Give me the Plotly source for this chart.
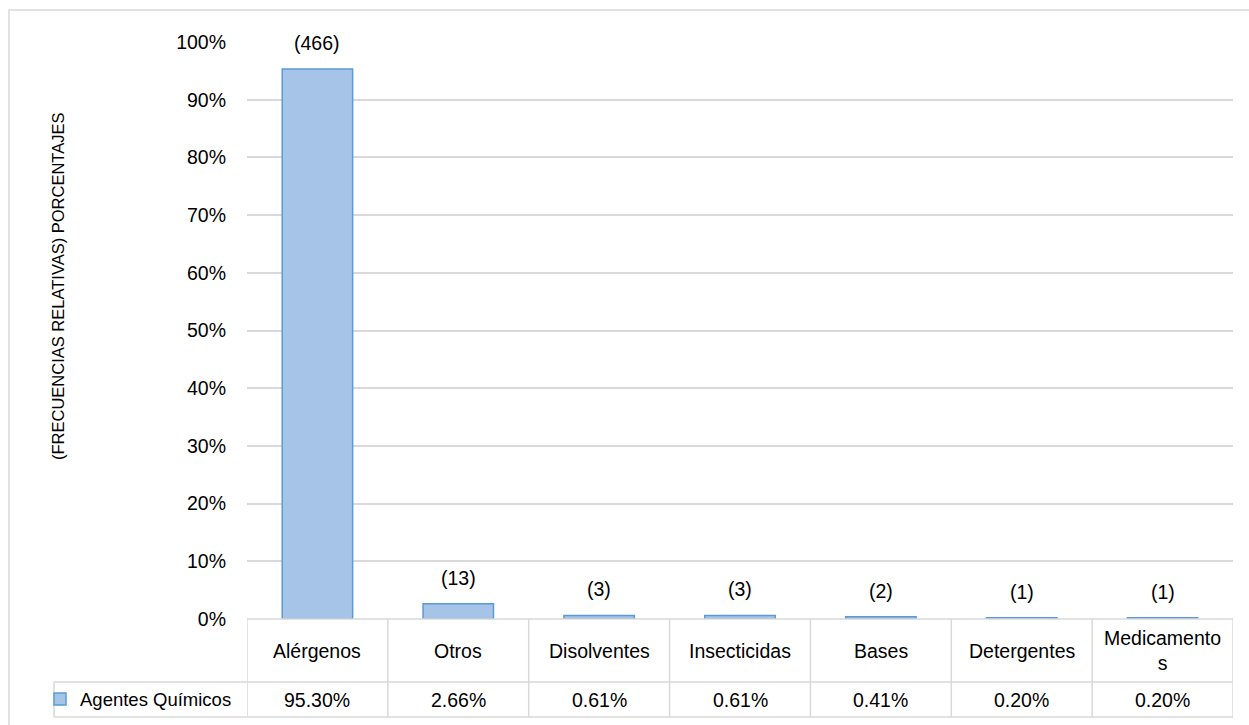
import plotly.graph_objects as go

# Chemical agents: case counts and relative frequencies
categories = ["Alérgenos", "Otros", "Disolventes", "Insecticidas", "Bases", "Detergentes", "Medicamentos"]
column_labels = ["Alérgenos", "Otros", "Disolventes", "Insecticidas", "Bases", "Detergentes", "Medicamento<br>s"]
counts = [466, 13, 3, 3, 2, 1, 1]
percents = [95.30, 2.66, 0.61, 0.61, 0.41, 0.20, 0.20]
series_name = "Agentes Químicos"
y_title = "(FRECUENCIAS RELATIVAS) PORCENTAJES"

W, H = 1249, 725
L, R, T, B = 247, 16, 42, 106          # plot area margins (px)
FONT = "Liberation Sans, Arial, sans-serif"
FS = 19.5
GRID = "#d9d9d9"
TEXT = "#000000"

plot_w = W - L - R
plot_h = H - T - B


def px_x(px):
    return (px - L) / plot_w


def px_y(py):
    return (H - B - py) / plot_h


fig = go.Figure()
fig.add_trace(go.Bar(
    x=categories,
    y=percents,
    name=series_name,
    width=0.5,
    marker=dict(color="#a6c3e8", line=dict(color="#5b9bd5", width=1.5)),
    showlegend=True,
    hoverinfo="skip",
))

# count labels above each bar
for c, v, n in zip(categories, percents, counts):
    fig.add_annotation(x=c, y=v, xref="x", yref="y", text=f"({n})",
                       showarrow=False, yanchor="middle", yshift=26,
                       font=dict(family=FONT, size=FS, color=TEXT))

# data table under the axis
row1_bottom = px_y(682)
row2_bottom = px_y(717)
legend_left = px_x(54)
n = len(categories)
shapes = []
line = dict(color=GRID, width=1.5)
# horizontal rules
shapes.append(dict(type="line", xref="x", yref="paper", x0=-0.5, x1=n - 0.5, y0=0, y1=0, line=line))
shapes.append(dict(type="line", xref="paper", yref="paper", x0=legend_left, x1=1, y0=row1_bottom, y1=row1_bottom, line=line))
shapes.append(dict(type="line", xref="paper", yref="paper", x0=legend_left, x1=1, y0=row2_bottom, y1=row2_bottom, line=line))
# vertical rules between columns
for i in range(n + 1):
    shapes.append(dict(type="line", xref="x", yref="paper", x0=i - 0.5, x1=i - 0.5, y0=0, y1=row2_bottom, line=line))
shapes.append(dict(type="line", xref="paper", yref="paper", x0=legend_left, x1=legend_left, y0=row1_bottom, y1=row2_bottom, line=line))
# chart frame
shapes.append(dict(type="rect", xref="paper", yref="paper", x0=px_x(9), x1=px_x(1260), y0=px_y(740), y1=px_y(10),
                   line=dict(color=GRID, width=1.5), fillcolor="rgba(0,0,0,0)", layer="below"))

for c, lab, v in zip(categories, column_labels, percents):
    fig.add_annotation(x=c, y=(0 + row1_bottom) / 2, xref="x", yref="paper", text=lab,
                       showarrow=False, yanchor="middle",
                       font=dict(family=FONT, size=FS, color=TEXT))
    fig.add_annotation(x=c, y=(row1_bottom + row2_bottom) / 2, xref="x", yref="paper", text=f"{v:.2f}%",
                       showarrow=False, yanchor="middle",
                       font=dict(family=FONT, size=FS, color=TEXT))

# axis title
fig.add_annotation(x=px_x(58), y=px_y(287), xref="paper", yref="paper", text=y_title,
                   textangle=-90, showarrow=False, xanchor="center", yanchor="middle",
                   font=dict(family=FONT, size=16.5, color=TEXT))

fig.update_layout(
    width=W, height=H,
    margin=dict(l=L, r=R, t=T, b=B, autoexpand=False),
    paper_bgcolor="white", plot_bgcolor="white",
    font=dict(family=FONT, size=FS, color=TEXT),
    shapes=shapes,
    bargap=0.5,
    legend=dict(x=px_x(40), y=(row1_bottom + row2_bottom) / 2, xanchor="left", yanchor="middle",
                bgcolor="rgba(0,0,0,0)", borderwidth=0, font=dict(family=FONT, size=18.5, color=TEXT),
                itemclick=False, itemdoubleclick=False),
    xaxis=dict(type="category", range=[-0.5, n - 0.5], showticklabels=False, showgrid=False,
               zeroline=False, showline=False, fixedrange=True),
    yaxis=dict(range=[0, 100], dtick=10, ticksuffix="%", showgrid=True, gridcolor=GRID, gridwidth=1.5,
               zeroline=False, showline=False, ticks="", ticklabelstandoff=20,
               tickfont=dict(family=FONT, size=FS, color=TEXT), fixedrange=True),
)

fig.write_html("out.html")
